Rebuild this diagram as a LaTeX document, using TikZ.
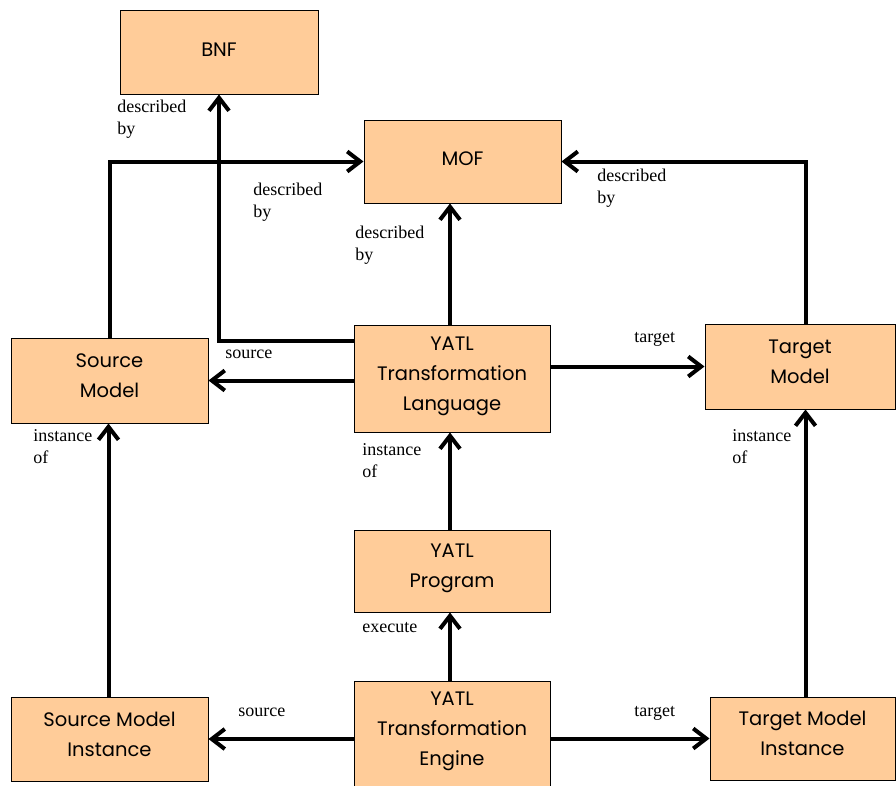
\documentclass[tikz,border=0pt]{standalone}
\usepackage{fontspec}
\setmainfont{Liberation Serif}
\newfontfamily\boxfont{Poppins}
\usetikzlibrary{arrows.meta,positioning}
\definecolor{boxfill}{HTML}{FFCC99}
\begin{document}
\begin{tikzpicture}[x=1pt,y=-1pt,thick]
\tikzstyle{block}=[draw,rectangle,fill=boxfill,line width=1pt,align=center,inner sep=2pt,
  font=\boxfont\fontsize{19.5}{30}\selectfont,text depth=10pt]
\tikzstyle{oneline}=[block,text depth=5pt]
\tikzstyle{conn}=[line width=4pt,-{Straight Barb[length=13pt,width=20pt]}]
\tikzstyle{lbl}=[anchor=west,align=left,inner sep=0pt,font=\fontsize{18}{22}\selectfont]
\useasboundingbox (0,0) rectangle (896,785);
% boxes
\node [oneline,minimum width=198pt,minimum height=84pt] (bnf) at (219,52) {BNF};
\node [oneline,minimum width=197pt,minimum height=83pt] (mof) at (462.5,161.5) {MOF};
\node [block,minimum width=197pt,minimum height=85pt] (src) at (109.5,380.5) {Source\\Model};
\node [block,minimum width=196pt,minimum height=107pt] (tl) at (452,378.5) {YATL\\Transformation\\Language};
\node [block,minimum width=190pt,minimum height=85pt] (tgt) at (800,366.5) {Target\\Model};
\node [block,minimum width=196pt,minimum height=82pt] (prog) at (452,571) {YATL\\Program};
\node [block,minimum width=196pt,minimum height=106pt] (eng) at (452,734) {YATL\\Transformation\\Engine};
\node [block,minimum width=197pt,minimum height=84pt] (smi) at (109.5,739) {Source Model\\Instance};
\node [block,minimum width=185pt,minimum height=83pt] (tmi) at (802.5,738.5) {Target Model\\Instance};
% labels
\node [lbl] (l1) at (117,119) {described\\by};
\node [lbl] (l2) at (253,202) {described\\by};
\node [lbl] (l3) at (355,245) {described\\by};
\node [lbl] (l4) at (597,188) {described\\by};
\node [lbl] (l5) at (225,354) {source};
\node [lbl] (l6) at (634,339) {target};
\node [lbl] (l7) at (33,447) {instance\\of};
\node [lbl] (l8) at (362,461) {instance\\of};
\node [lbl] (l9) at (732,447) {instance\\of};
\node [lbl] (l10) at (362,628) {execute};
\node [lbl] (l11) at (238,712) {source};
\node [lbl] (l12) at (634,713) {target};
% connectors
\draw [conn] (src.north) |- (mof.west);
\draw [conn] ([yshift=38pt]tl.west) -| (bnf.south);
\draw [conn] ([xshift=-2pt]tl.north) -- ([xshift=-2pt]tl.north |- mof.south);
\draw [conn] ([xshift=6pt]tgt.north) |- (mof.east);
\draw [conn] (tl.west |- src.east) -- (src.east);
\draw [conn] (tl.east |- tgt.west) -- (tgt.west);
\draw [conn] ([xshift=-2pt]prog.north) -- ([xshift=-2pt]tl.south);
\draw [conn] ([xshift=-2pt]eng.north) -- ([xshift=-2pt]prog.south);
\draw [conn] (eng.west |- smi.east) -- (smi.east);
\draw [conn] (eng.east |- tmi.west) -- (tmi.west);
\draw [conn] ([xshift=-1pt]smi.north) -- ([xshift=-1pt]src.south);
\draw [conn] ([xshift=3pt]tmi.north) -- ([xshift=3pt]tmi.north |- tgt.south);
\end{tikzpicture}
\end{document}
